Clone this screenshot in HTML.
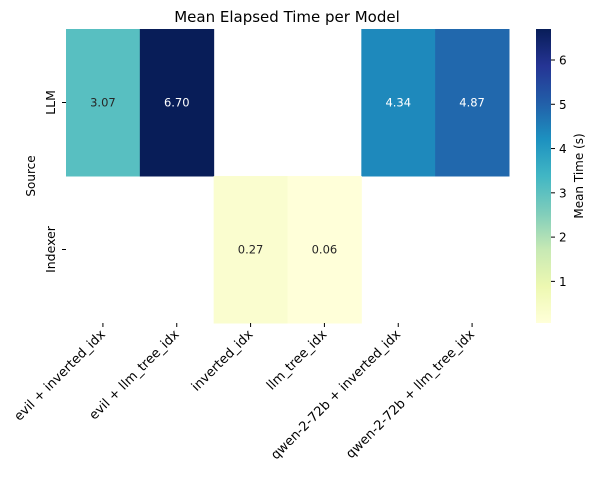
<!DOCTYPE html>
<html><head><meta charset="utf-8"><style>
body{margin:0;background:#fff;}
svg text{font-family:"DejaVu Sans","Liberation Sans",sans-serif;fill:#000;}
</style></head><body>
<svg id="c" width="597" height="472" xmlns="http://www.w3.org/2000/svg">
<defs><linearGradient id="g" x1="0" y1="1" x2="0" y2="0">
<stop offset="0" stop-color="#ffffd9"/><stop offset="0.125" stop-color="#edf8b1"/><stop offset="0.25" stop-color="#c7e9b4"/><stop offset="0.375" stop-color="#7fcdbb"/><stop offset="0.5" stop-color="#41b6c4"/><stop offset="0.625" stop-color="#1d91c0"/><stop offset="0.75" stop-color="#225ea8"/><stop offset="0.875" stop-color="#253494"/><stop offset="1" stop-color="#081d58"/>
</linearGradient></defs>
<text x="287" y="22" font-size="15" text-anchor="middle">Mean Elapsed Time per Model</text>
<g id="cells"></g>
<g id="axes"></g>
<rect x="536" y="29" width="15" height="294" fill="url(#g)"/>
<text transform="translate(583,176) rotate(-90)" font-size="12" text-anchor="middle">Mean Time (s)</text>
<text transform="translate(35,176) rotate(-90)" font-size="12" text-anchor="middle">Source</text>
</svg>
<script>
const columns=["evil + inverted_idx","evil + llm_tree_idx","inverted_idx","llm_tree_idx","qwen-2-72b + inverted_idx","qwen-2-72b + llm_tree_idx"];
const rows=["LLM","Indexer"];
const llmValues=[3.07,6.70,null,null,4.34,4.87];
const indexerValues=[null,null,0.27,0.06,null,null];
const cbTicks=[1,2,3,4,5,6];
const values=[llmValues,indexerValues];
const X0=66,X1=509,Y0=29,Y1=323;
const cw=(X1-X0)/columns.length, rh=(Y1-Y0)/rows.length;
const all=values.flat().filter(v=>v!=null);
const vmin=Math.min(...all), vmax=Math.max(...all);
const stops=["#ffffd9","#edf8b1","#c7e9b4","#7fcdbb","#41b6c4","#1d91c0","#225ea8","#253494","#081d58"];
function hex(h){return [1,3,5].map(i=>parseInt(h.substr(i,2),16));}
function cmap(v){let t=(v-vmin)/(vmax-vmin);t=Math.max(0,Math.min(1,t))*(stops.length-1);const i=Math.min(Math.floor(t),stops.length-2),f=t-i;const a=hex(stops[i]),b=hex(stops[i+1]);return `rgb(${a.map((x,k)=>Math.round(x+(b[k]-x)*f)).join(',')})`;}
function lum(v){return (v-vmin)/(vmax-vmin);}
const NS="http://www.w3.org/2000/svg";
function mk(tag,attrs,parent,txt){const e=document.createElementNS(NS,tag);for(const k in attrs)e.setAttribute(k,attrs[k]);if(txt!=null)e.textContent=txt;parent.appendChild(e);return e;}
const cells=document.getElementById('cells'),axes=document.getElementById('axes'),svg=document.getElementById('c');
values.forEach((row,r)=>row.forEach((v,c)=>{if(v==null)return;
 const x=X0+c*cw,y=Y0+r*rh;
 const rc=mk('rect',{x:x,y:y,width:cw+0.5,height:rh+0.5,fill:cmap(v)},cells);
 
 
 const t=mk('text',{x:x+cw/2,y:y+rh/2+4,'font-size':11.5,'text-anchor':'middle',style:'fill:'+(lum(v)>0.6?'#fff':'#262626')},cells,v.toFixed(2));
 
 
}));
columns.forEach((n,c)=>{const x=X0+(c+0.5)*cw;
 mk('line',{x1:x,x2:x,y1:Y1,y2:Y1+4,stroke:'#000'},axes);
 const t=mk('text',{transform:`translate(${x+3},${Y1+12}) rotate(-45)`,'font-size':13,'text-anchor':'end'},axes,n);
 
 
});
rows.forEach((n,r)=>{const y=Y0+(r+0.5)*rh;
 mk('line',{x1:X0-4,x2:X0,y1:y,y2:y,stroke:'#000'},axes);
 const t=mk('text',{transform:`translate(${X0-11},${y}) rotate(-90)`,'font-size':12.5,'text-anchor':'middle'},axes,n);
 
 
});
cbTicks.forEach(v=>{const y=Y1-(v-vmin)/(vmax-vmin)*(Y1-Y0);
 mk('line',{x1:551,x2:555,y1:y,y2:y,stroke:'#000'},svg);
 const t=mk('text',{x:559,y:y+4.5,'font-size':12},svg,String(v));
 
 
});
</script>
</body></html>
